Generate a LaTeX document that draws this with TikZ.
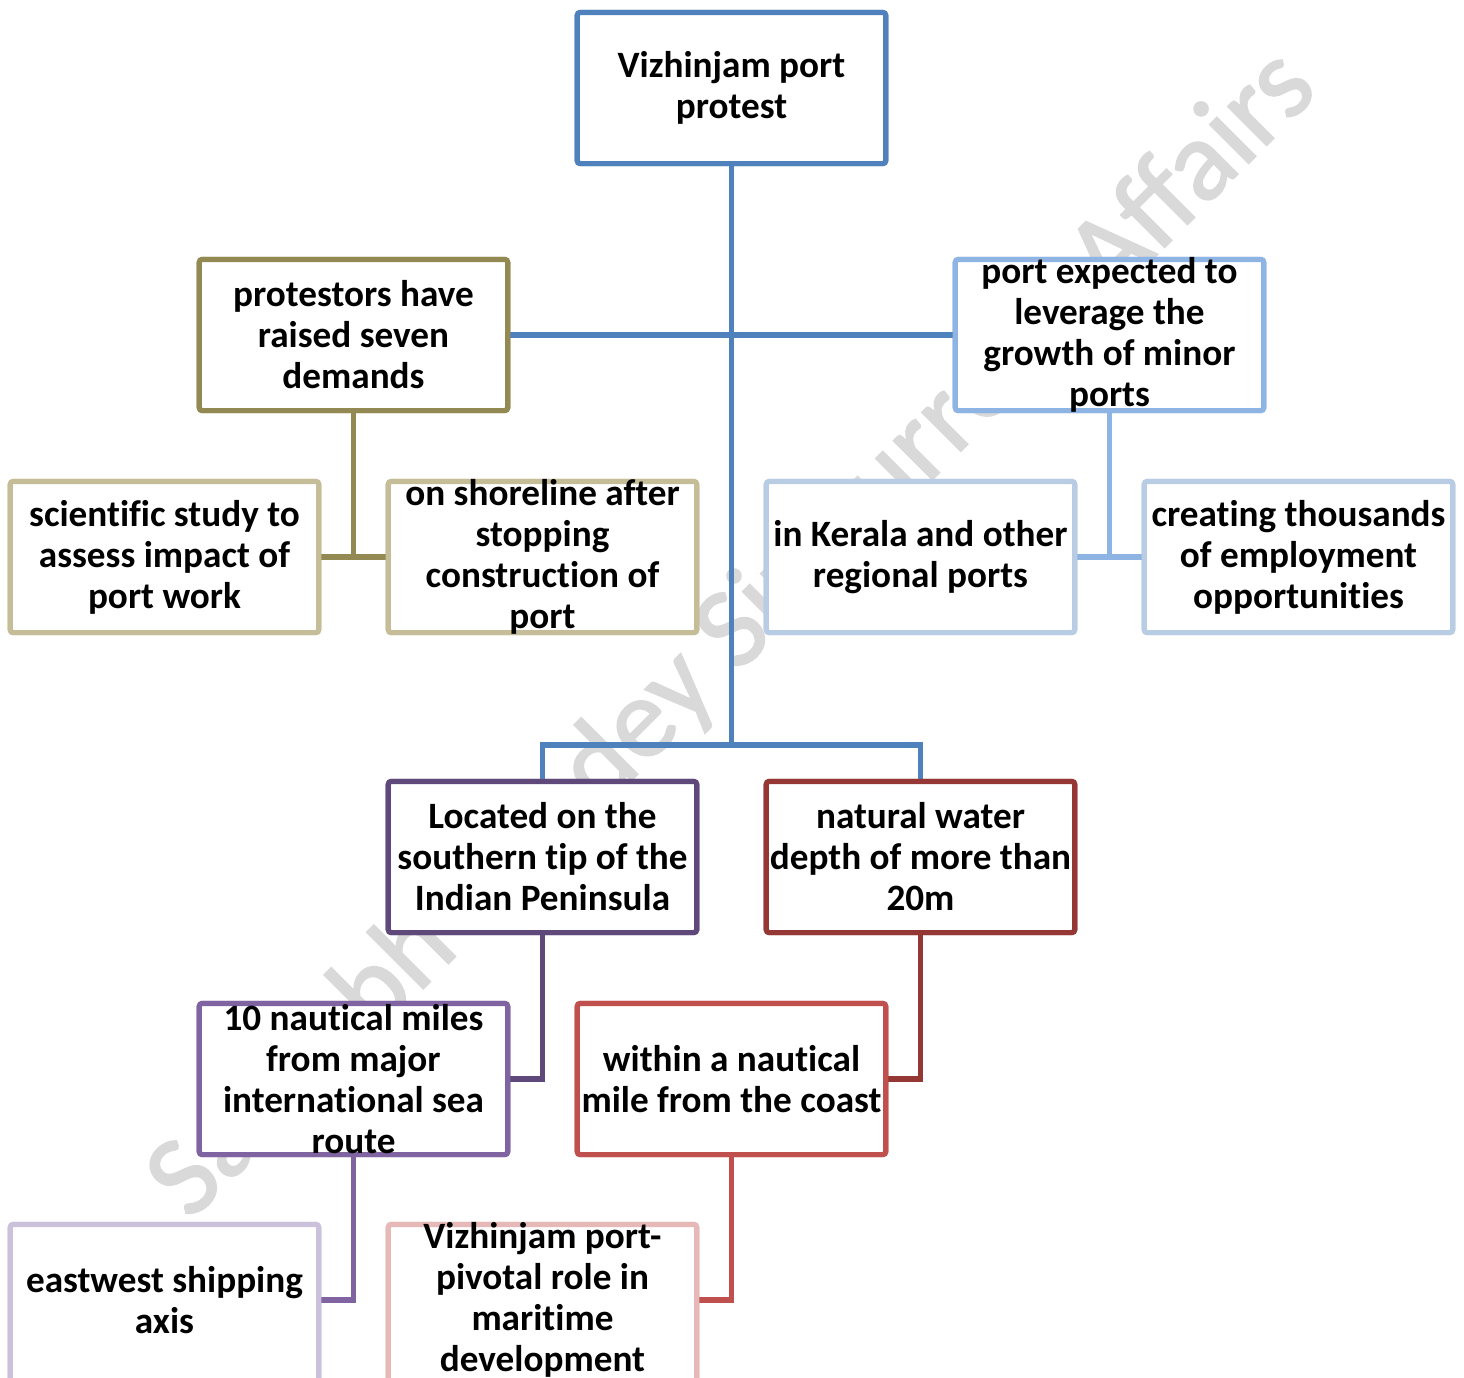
\documentclass[tikz,border=0pt]{standalone}
\usepackage{fontspec}
\setmainfont[Ligatures=NoCommon]{Carlito}
\newfontfamily\wmfont[FakeBold=1.5]{Carlito}
\definecolor{cTop}{HTML}{4F81BD}
\definecolor{cOlive}{HTML}{938953}
\definecolor{cTan}{HTML}{C4BD97}
\definecolor{cLB}{HTML}{8DB4E2}
\definecolor{cLLB}{HTML}{B8CCE4}
\definecolor{cPurD}{HTML}{5F497A}
\definecolor{cRedD}{HTML}{953735}
\definecolor{cPur}{HTML}{8064A2}
\definecolor{cRed}{HTML}{C0504D}
\definecolor{cPurL}{HTML}{CCC1DA}
\definecolor{cPink}{HTML}{E6B9B8}
\definecolor{cWm}{HTML}{D9D9D9}
\begin{document}
\begin{tikzpicture}[x=0.5pt,y=-0.5pt,
  box/.style={draw, fill=white, line width=2.6pt, rounded corners=1.5pt,
    minimum width=154.2pt, minimum height=75.6pt, inner sep=0pt},
  tallbox/.style={box, minimum height=90pt},
  txt/.style={align=center, inner sep=0pt,
    font=\fontsize{18.6}{20.5}\selectfont\bfseries},
  conn/.style={line width=2.6pt},
  wm/.style={font=\wmfont\fontsize{57.5}{57.5}\selectfont, text=cWm, inner sep=0pt}]
\clip (0,0) rectangle (1464,1378);
\fill[white] (0,0) rectangle (1464,1378);
% watermark
\node[wm, rotate=45, anchor=base west] (wm) at (190,1222) {Saurabh Pandey Sir Current Affairs};
% junction coordinates
\coordinate (j1) at (731.5,745);
\coordinate (j2) at (353.5,557);
\coordinate (j3) at (1109.5,557);
% box frames (positions)
\path
  (731.5,88)  node[box, draw=cTop]   (n1) {}
  (353.5,335) node[box, draw=cOlive] (n2) {}
  (1109.5,335) node[box, draw=cLB]   (n3) {}
  (164.5,557) node[box, draw=cTan]   (n4) {}
  (542.5,557) node[box, draw=cTan]   (n5) {}
  (920.5,557) node[box, draw=cLLB]   (n6) {}
  (1298.5,557) node[box, draw=cLLB]  (n7) {}
  (542.5,857) node[box, draw=cPurD]  (n8) {}
  (920.5,857) node[box, draw=cRedD]  (n9) {}
  (353.5,1079) node[box, draw=cPur]  (n10) {}
  (731.5,1079) node[box, draw=cRed]  (n11) {}
  (164.5,1314.4) node[tallbox, draw=cPurL] (n12) {}
  (542.5,1314.4) node[tallbox, draw=cPink] (n13) {};
% connectors
\draw[conn, cTop] (n1.south) -- (j1);
\draw[conn, cTop] (n8.north) |- (j1) -| (n9.north);
\draw[conn, cTop] (n2.east) -- (n3.west);
\draw[conn, cOlive] (n2.south) -- (j2);
\draw[conn, cOlive] (n4.east) -- (n5.west);
\draw[conn, cLB] (n3.south) -- (j3);
\draw[conn, cLB] (n6.east) -- (n7.west);
\draw[conn, cPurD] (n8.south) |- (n10.east);
\draw[conn, cRedD] (n9.south) |- (n11.east);
\draw[conn, cPur] (n10.south) |- (n12.east |- 0,1300);
\draw[conn, cRed] (n11.south) |- (n13.east |- 0,1300);
% redraw box frames on top of connectors
\path
  (731.5,88)  node[box, draw=cTop]   (b1) {}
  (353.5,335) node[box, draw=cOlive] (b2) {}
  (1109.5,335) node[box, draw=cLB]   (b3) {}
  (164.5,557) node[box, draw=cTan]   (b4) {}
  (542.5,557) node[box, draw=cTan]   (b5) {}
  (920.5,557) node[box, draw=cLLB]   (b6) {}
  (1298.5,557) node[box, draw=cLLB]  (b7) {}
  (542.5,857) node[box, draw=cPurD]  (b8) {}
  (920.5,857) node[box, draw=cRedD]  (b9) {}
  (353.5,1079) node[box, draw=cPur]  (b10) {}
  (731.5,1079) node[box, draw=cRed]  (b11) {}
  (164.5,1314.4) node[tallbox, draw=cPurL] (b12) {}
  (542.5,1314.4) node[tallbox, draw=cPink] (b13) {};
% texts
\node[txt] (t1) at (n1) {Vizhinjam port\\protest};
\node[txt] (t2) at (n2) {protestors have\\raised seven\\demands};
\node[txt] (t3) at (n3) {port expected to\\leverage the\\growth of minor\\ports};
\node[txt] (t4) at (n4) {scientific study to\\assess impact of\\port work};
\node[txt] (t5) at (n5) {on shoreline after\\stopping\\construction of\\port};
\node[txt] (t6) at (n6) {in Kerala and other\\regional ports};
\node[txt] (t7) at (n7) {creating thousands\\of employment\\opportunities};
\node[txt] (t8) at (n8) {Located on the\\southern tip of the\\Indian Peninsula};
\node[txt] (t9) at (n9) {natural water\\depth of more than\\20m};
\node[txt] (t10) at (n10) {10 nautical miles\\from major\\international sea\\route};
\node[txt] (t11) at (n11) {within a nautical\\mile from the coast};
\node[txt] (t12) at (164.5,1300) {eastwest shipping\\axis};
\node[txt] (t13) at (542.5,1300) {Vizhinjam port-\\pivotal role in\\maritime\\development};
\end{tikzpicture}
\end{document}
